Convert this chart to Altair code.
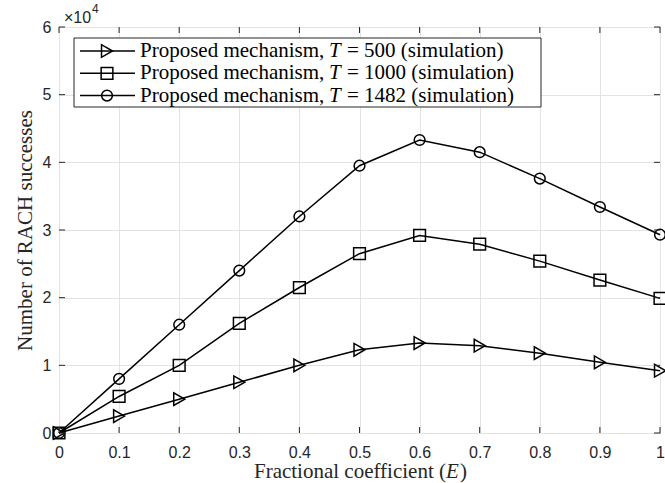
import altair as alt
import pandas as pd

# ---------------- data ----------------
E_values = [0.0, 0.1, 0.2, 0.3, 0.4, 0.5, 0.6, 0.7, 0.8, 0.9, 1.0]
succ_T500 = [0, 2500, 5000, 7500, 10000, 12300, 13300, 12900, 11800, 10450, 9200]
succ_T1000 = [0, 5400, 10000, 16200, 21500, 26500, 29200, 27900, 25400, 22600, 19900]
succ_T1482 = [0, 8000, 16000, 24000, 32000, 39500, 43300, 41500, 37600, 33400, 29300]
series_names = ["T = 500", "T = 1000", "T = 1482"]
series_T = ["500", "1000", "1482"]
marker_shapes = ["triangle-right", "square", "circle"]
marker_sizes = [160, 115, 125]
x_ticks = [0, 0.1, 0.2, 0.3, 0.4, 0.5, 0.6, 0.7, 0.8, 0.9, 1]
y_ticks = [0, 10000, 20000, 30000, 40000, 50000, 60000]
legend_prefix = "Proposed mechanism,"
legend_symbol = "T"
legend_suffix = "= {} (simulation)"
x_title_parts = ["Fractional coefficient (", "E", ")"]
y_title = "Number of RACH successes"
exp_base = "\u00d710"
exp_power = "4"

# ---------------- styling ----------------
W, H = 601, 406
INK = "#262626"
GRID = "#e3e3e3"
SERIF = "Liberation Serif"
SANS = "Liberation Sans"
TICK = 6

rows = []
for name, vals in zip(series_names, [succ_T500, succ_T1000, succ_T1482]):
    for e, v in zip(E_values, vals):
        rows.append({"E": e, "N": v, "series": name})
df = pd.DataFrame(rows)

xscale = alt.Scale(domain=[0, 1], nice=False, zero=False)
yscale = alt.Scale(domain=[0, 60000], nice=False, zero=False)
xaxis = alt.Axis(values=x_ticks, format="~g", grid=True, gridColor=GRID, gridWidth=1,
                 ticks=False, domain=False, labelFont=SANS, labelFontSize=16,
                 labelColor=INK, labelPadding=11, labelFlush=False, labelOverlap=False,
                 title="")
yaxis = alt.Axis(values=y_ticks, labelExpr="format(datum.value / 10000, '~g')",
                 grid=True, gridColor=GRID, gridWidth=1, ticks=False, domain=False,
                 labelFont=SANS, labelFontSize=16, labelColor=INK, labelPadding=8,
                 labelOverlap=False, labelFlush=False,
                 title=y_title, titleFont=SERIF, titleFontSize=21, titleFontWeight="normal",
                 titleColor=INK, titleAngle=270, titleX=-28, titleY=H / 2,
                 titleBaseline="alphabetic", titleAlign="center")

X = alt.X("E:Q", scale=xscale, axis=xaxis)
Y = alt.Y("N:Q", scale=yscale, axis=yaxis)
shape_enc = alt.Shape("series:N", scale=alt.Scale(domain=series_names, range=marker_shapes), legend=None)
size_enc = alt.Size("series:N", scale=alt.Scale(domain=series_names, range=marker_sizes), legend=None)

lines = alt.Chart(df).mark_line(color="black", strokeWidth=1.5).encode(
    x=X, y=Y, detail="series:N")
points = alt.Chart(df).mark_point(filled=False, color="black", strokeWidth=1.5, opacity=1).encode(
    x=X, y=Y, shape=shape_enc, size=size_enc)

# inward ticks
xt = pd.DataFrame({"E": x_ticks})
yt = pd.DataFrame({"N": y_ticks})
tick_b = alt.Chart(xt).mark_rule(color=INK, strokeWidth=1).encode(
    x=X, y=alt.value(H), y2=alt.value(H - TICK))
tick_t = alt.Chart(xt).mark_rule(color=INK, strokeWidth=1).encode(
    x=X, y=alt.value(0), y2=alt.value(TICK))
tick_l = alt.Chart(yt).mark_rule(color=INK, strokeWidth=1).encode(
    y=Y, x=alt.value(0), x2=alt.value(TICK))
tick_r = alt.Chart(yt).mark_rule(color=INK, strokeWidth=1).encode(
    y=Y, x=alt.value(W), x2=alt.value(W - TICK))

# x-axis title with italic E
xt_df = pd.DataFrame({"a": [x_title_parts[0]], "b": [x_title_parts[1]], "c": [x_title_parts[2]]})
XT_SPLIT = 387
xtitle_a = alt.Chart(xt_df).mark_text(align="right", baseline="alphabetic", font=SERIF,
                                      fontSize=21, color=INK).encode(
    x=alt.value(XT_SPLIT), y=alt.value(H + 45), text="a:N")
xtitle_b = alt.Chart(xt_df).mark_text(align="left", baseline="alphabetic", font=SERIF,
                                      fontSize=21, fontStyle="italic", color=INK).encode(
    x=alt.value(XT_SPLIT), y=alt.value(H + 45), text="b:N")
xtitle_c = alt.Chart(xt_df).mark_text(align="left", baseline="alphabetic", font=SERIF,
                                      fontSize=21, color=INK).encode(
    x=alt.value(XT_SPLIT + 14), y=alt.value(H + 45), text="c:N")

# exponent label
exp_df = pd.DataFrame({"base": [exp_base], "pow": [exp_power]})
exp_a = alt.Chart(exp_df).mark_text(align="left", baseline="alphabetic", font=SANS,
                                    fontSize=16, color=INK).encode(
    x=alt.value(5), y=alt.value(-4), text="base:N")
exp_b = alt.Chart(exp_df).mark_text(align="left", baseline="alphabetic", font=SANS,
                                    fontSize=12, color=INK).encode(
    x=alt.value(33), y=alt.value(-14), text="pow:N")

# legend
box = alt.Chart(pd.DataFrame({"k": [0]})).mark_rect(fill="white", stroke=INK, strokeWidth=1).encode(
    x=alt.value(15), x2=alt.value(482), y=alt.value(11), y2=alt.value(80))
legend_layers = [box]
for i, (name, tval) in enumerate(zip(series_names, series_T)):
    yi = 24 + i * 22.3
    ldf = pd.DataFrame({"series": [name], "prefix": [legend_prefix], "sym": [legend_symbol],
                        "suffix": [legend_suffix.format(tval)]})
    base = alt.Chart(ldf)
    legend_layers.append(base.mark_rule(color="black", strokeWidth=1.5).encode(
        x=alt.value(21), x2=alt.value(76), y=alt.value(yi)))
    legend_layers.append(base.mark_point(filled=False, color="black", strokeWidth=1.5, opacity=1).encode(
        x=alt.value(48), y=alt.value(yi), shape=shape_enc, size=size_enc))
    legend_layers.append(base.mark_text(align="left", baseline="middle", font=SERIF, fontSize=21,
                                        color="black").encode(
        x=alt.value(81), y=alt.value(yi), text="prefix:N"))
    legend_layers.append(base.mark_text(align="left", baseline="middle", font=SERIF, fontSize=21,
                                        fontStyle="italic", color="black").encode(
        x=alt.value(270), y=alt.value(yi), text="sym:N"))
    legend_layers.append(base.mark_text(align="left", baseline="middle", font=SERIF, fontSize=21,
                                        color="black").encode(
        x=alt.value(288), y=alt.value(yi), text="suffix:N"))

chart = alt.layer(
    lines, points, tick_b, tick_t, tick_l, tick_r,
    xtitle_a, xtitle_b, xtitle_c, exp_a, exp_b, *legend_layers
).properties(
    width=W, height=H,
    autosize=alt.AutoSizeParams(type="none"),
    padding={"left": 59, "top": 27, "right": 5, "bottom": 50},
    background="white",
).configure_view(stroke=INK, strokeWidth=1)

chart.save("out.html", embed_options={"renderer": "svg", "actions": False})
